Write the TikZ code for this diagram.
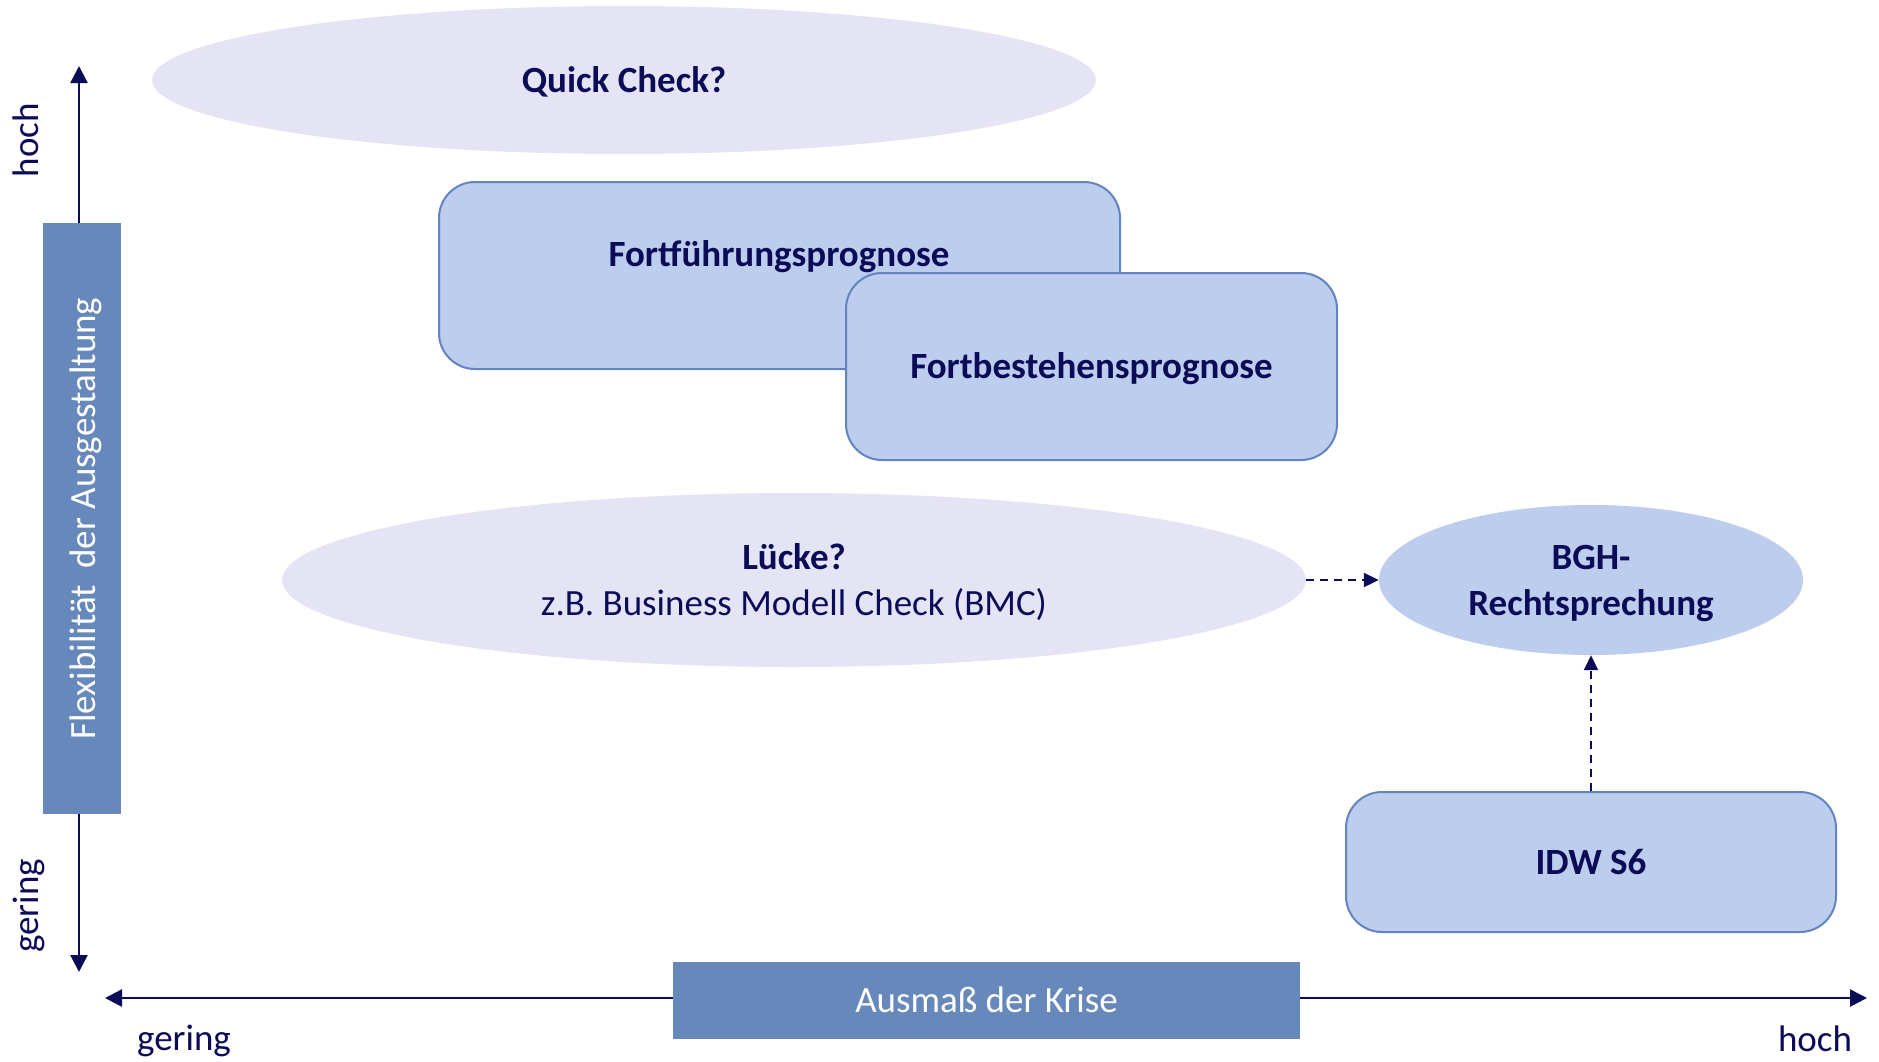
\documentclass[tikz,border=0pt]{standalone}
\usepackage{fontspec}
\setmainfont{Carlito}
\usetikzlibrary{shapes.geometric,arrows.meta}
\definecolor{navy}{HTML}{0B0B58}
\definecolor{lav}{HTML}{E4E4F5}
\definecolor{boxfill}{HTML}{BCCDED}
\definecolor{boxline}{HTML}{6384C0}
\definecolor{bar}{HTML}{6788BB}
\newcommand{\toprl}{\rule{0pt}{0.85em}}
\newcommand{\botrl}{\rule[-0.2em]{0pt}{0pt}}
\begin{document}
\begin{tikzpicture}[x=1pt,y=-1pt,
  every node/.style={font=\fontsize{37}{46}\selectfont, text=navy, text height=31.5pt, text depth=7.4pt},
  multi/.style={text height=, text depth=, align=center},
  lavell/.style={ellipse, fill=lav, draw=none, inner sep=0pt},
  blueell/.style={ellipse, fill=boxfill, draw=none, inner sep=0pt},
  rbox/.style={rectangle, rounded corners=36pt, fill=boxfill, draw=boxline, line width=2pt, inner sep=0pt},
  barbox/.style={rectangle, fill=bar, draw=none, inner sep=0pt, text=white},
  axis/.style={draw=navy, line width=2.6pt, -{Triangle[length=17pt,width=17pt]}},
  dasharrow/.style={draw=navy, line width=2pt, dash pattern=on 8pt off 6pt, -{Triangle[length=15pt,width=14pt]}},
  bold/.style={font=\fontsize{37}{46}\selectfont\bfseries}
]
\useasboundingbox (0,0) rectangle (1879,1061);

% ellipses
\node[lavell, minimum width=944pt, minimum height=148pt, bold] (qc) at (624,80) {Quick Check?};
\node[lavell, minimum width=1024pt, minimum height=174pt, multi] (lu) at (794,580) {\toprl\textbf{Lücke?}\\z.B. Business Modell Check (BMC)\botrl};
\node[blueell, minimum width=424pt, minimum height=150pt, multi, bold] (bgh) at (1591,580) {\toprl BGH-\\Rechtsprechung\botrl};

% boxes
\node[rbox, minimum width=681pt, minimum height=187pt] (ff) at (779.5,275.5) {};
\node[bold] (ffl) at (779,254) {Fortführungsprognose};
\node[rbox, minimum width=491pt, minimum height=187pt, bold] (fb) at (1091.5,366.5) {Fortbestehensprognose};
\node[rbox, minimum width=490pt, minimum height=140pt, bold] (idw) at (1591,862) {IDW S6};

% dashed connectors
\draw[dasharrow] (lu.east) -- (bgh.west);
\draw[dasharrow] (idw.north) -- (bgh.south);

% vertical axis
\node[barbox, minimum width=78pt, minimum height=591pt] (flex) at (82,518.5) {};
\node[rotate=90, text=white] (flexl) at (83,518.5) {Flexibilität\ \ der Ausgestaltung};
\coordinate (vtop) at (79,66);
\coordinate (vbot) at (79,972);
\draw[axis] (79,223) -- (vtop);
\draw[axis] (79,814) -- (vbot);
\node[rotate=90] (vhoch) at (26,140) {hoch};
\node[rotate=90] (vger) at (26,906) {gering};

% horizontal axis
\node[barbox, minimum width=627pt, minimum height=77pt] (aus) at (986.5,1000.5) {Ausmaß der Krise};
\coordinate (hleft) at (105,998);
\coordinate (hright) at (1867,998);
\draw[axis] (aus.west |- 0,998) -- (hleft);
\draw[axis] (aus.east |- 0,998) -- (hright);
\node (hger) at (184,1038) {gering};
\node (hhoch) at (1815,1039) {hoch};
\end{tikzpicture}
\end{document}
